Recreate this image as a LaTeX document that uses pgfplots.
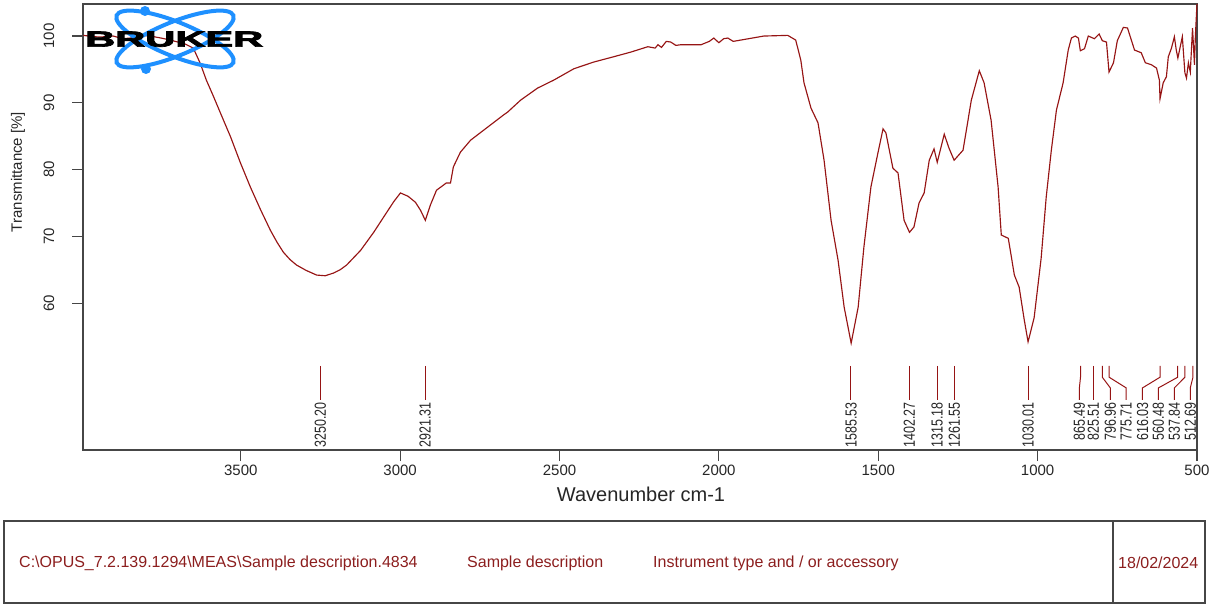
\documentclass[border=0pt]{standalone}
\usepackage{fontspec}
\setmainfont{Liberation Sans}
\newfontfamily\brukerfont{Liberation Sans}[BoldFeatures={FakeBold=3}]
\usepackage{pgfplots}
\pgfplotsset{compat=1.18}
\definecolor{curve}{RGB}{150,20,20}
\definecolor{txtred}{RGB}{140,30,30}
\definecolor{logoblue}{RGB}{30,144,255}
\definecolor{framec}{RGB}{70,70,70}
\newcommand{\pk}[1]{\scalebox{0.78}[1]{#1}}
\begin{document}
\begin{tikzpicture}
\path[use as bounding box] (0,0) rectangle (1225pt,605pt);
\begin{axis}[
  at={(83pt,155pt)}, anchor=south west,
  width=1114pt, height=446pt, scale only axis,
  xmin=500, xmax=3995, x dir=reverse,
  ymin=38, ymax=104.8,
  xtick={500,1000,1500,2000,2500,3000,3500},
  ytick=\empty,
  tick align=outside, xtick pos=left,
  major tick length=11pt,
  axis line style={framec, line width=1.1pt},
  every tick/.style={framec, line width=1.1pt},
  /pgf/number format/assume math mode=true,
  /pgf/number format/1000 sep={},
  xticklabel style={font=\fontsize{15}{17}\selectfont, text=black!85},
  clip=false,
]
\addplot[curve, line width=1.15pt] coordinates {
(3994,100.1) (3960,99.9) (3941,99.85) (3900,100.0) (3870,99.6) (3847,99.7) (3810,100.1) (3784,100.0) (3750,99.7) (3721,99.4)
(3674,98.8) (3649,98.2) (3627,95.9) (3608,93.4) (3586,91.0) (3564,88.5) (3532,84.9) (3501,81.0) (3470,77.4)
(3438,74.0) (3407,70.9) (3386,69.1) (3366,67.6) (3345,66.5) (3325,65.7) (3295,64.9) (3262,64.2) (3235,64.1) (3209,64.5) (3188,65.0) (3168,65.7) (3124,67.9)
(3083,70.6) (3042,73.6) (3020,75.2) (2999,76.5) (2975,76.0) (2952,75.1) (2936,73.9) (2921,72.4) (2905,74.7) (2886,76.9)
(2855,78.0) (2842,78.0) (2833,80.4) (2811,82.6) (2779,84.4) (2738,85.9) (2675,88.2) (2663,88.6)
(2622,90.4) (2569,92.2) (2518,93.4) (2455,95.1) (2393,96.1) (2330,96.9) (2276,97.6) (2223,98.4)
(2200,98.2) (2191,98.7) (2180,98.3) (2165,99.2) (2151,99.1) (2135,98.6) (2119,98.7) (2056,98.7) (2030,99.2) (2016,99.7) (2000,99.0) (1985,99.6)
(1972,99.7) (1955,99.2) (1931,99.4) (1859,100.0) (1784,100.1) (1759,99.4) (1743,96.4) (1733,93.0)
(1711,89.2) (1689,87.0) (1670,81.4) (1648,72.4) (1626,66.4) (1607,59.4) (1585,54.0) (1563,59.4)
(1545,68.4) (1523,77.4) (1501,82.5) (1485,86.1) (1476,85.5) (1454,80.2) (1438,79.5) (1419,72.4)
(1402,70.6) (1388,71.4) (1372,75.0) (1356,76.5) (1340,81.4) (1325,83.1) (1315,81.1) (1293,85.3)
(1278,83.2) (1262,81.4) (1234,82.9) (1208,90.4) (1183,94.8) (1168,93.0) (1146,87.4) (1124,77.4)
(1114,70.2) (1092,69.7) (1073,64.2) (1058,62.4) (1042,57.5) (1030,54.2) (1011,57.8) (989,66.7)
(973,75.9) (957,82.9) (941,88.9) (920,93.0) (904,97.9) (894,99.7) (882,100.0) (872,99.7)
(866,97.8) (853,98.1) (841,100.0) (822,99.6) (807,100.3) (797,99.3) (784,99.1) (776,94.6)
(762,96.0) (750,99.3) (731,101.3) (718,101.2) (696,97.9) (675,97.5) (662,96.0) (643,95.7)
(627,95.2) (618,93.4) (616,90.6) (606,93.0) (596,93.9) (590,96.9) (580,98.2) (571,99.9)
(565,97.9) (560,96.7) (546,99.9) (538,94.5) (533,93.7) (527,96.0) (521,94.6) (514,101.2)
(508,95.7) (505,100.1) (501,103.9) (500,104.8)
};
% peak markers (straight)
\addplot[curve, line width=1pt] coordinates {(3250.20,50.6) (3250.20,45.5)};
\addplot[curve, line width=1pt] coordinates {(2921.31,50.6) (2921.31,45.5)};
\addplot[curve, line width=1pt] coordinates {(1585.53,50.6) (1585.53,45.5)};
\addplot[curve, line width=1pt] coordinates {(1402.27,50.6) (1402.27,45.5)};
\addplot[curve, line width=1pt] coordinates {(1315.18,50.6) (1315.18,45.5)};
\addplot[curve, line width=1pt] coordinates {(1261.55,50.6) (1261.55,45.5)};
\addplot[curve, line width=1pt] coordinates {(1030.01,50.6) (1030.01,45.5)};
\addplot[curve, line width=1pt] coordinates {(825.51,50.6) (825.51,45.5)};
% peak markers (bent)
\addplot[curve, line width=1pt] coordinates {(865.49,50.6) (865.49,48.9) (869,47.3) (869,45.5)};
\addplot[curve, line width=1pt] coordinates {(796.96,50.6) (796.96,48.9) (772,47.3) (772,45.5)};
\addplot[curve, line width=1pt] coordinates {(775.71,50.6) (775.71,48.9) (722,47.3) (722,45.5)};
\addplot[curve, line width=1pt] coordinates {(616.03,50.6) (616.03,48.9) (671,47.3) (671,45.5)};
\addplot[curve, line width=1pt] coordinates {(560.48,50.6) (560.48,48.9) (621,47.3) (621,45.5)};
\addplot[curve, line width=1pt] coordinates {(537.84,50.6) (537.84,48.9) (571,47.3) (571,45.5)};
\addplot[curve, line width=1pt] coordinates {(512.69,50.6) (512.69,48.9) (521,47.3) (521,45.5)};
\begin{scope}[every node/.style={rotate=90, anchor=east, inner sep=0pt, font=\fontsize{16}{18}\selectfont, text=black!85}]
\node at (axis cs:3250.20,45.2) {\pk{3250.20}};
\node at (axis cs:2921.31,45.2) {\pk{2921.31}};
\node at (axis cs:1585.53,45.2) {\pk{1585.53}};
\node at (axis cs:1402.27,45.2) {\pk{1402.27}};
\node at (axis cs:1315.18,45.2) {\pk{1315.18}};
\node at (axis cs:1261.55,45.2) {\pk{1261.55}};
\node at (axis cs:1030.01,45.2) {\pk{1030.01}};
\node at (axis cs:869,45.2) {\pk{865.49}};
\node at (axis cs:825.51,45.2) {\pk{825.51}};
\node at (axis cs:772,45.2) {\pk{796.96}};
\node at (axis cs:722,45.2) {\pk{775.71}};
\node at (axis cs:671,45.2) {\pk{616.03}};
\node at (axis cs:621,45.2) {\pk{560.48}};
\node at (axis cs:571,45.2) {\pk{537.84}};
\node at (axis cs:521,45.2) {\pk{512.69}};
\end{scope}
% y ticks on the left edge
\draw[framec, line width=1.1pt] (axis cs:3995,100) -- ++(-11pt,0pt);
\draw[framec, line width=1.1pt] (axis cs:3995,90) -- ++(-11pt,0pt);
\draw[framec, line width=1.1pt] (axis cs:3995,80) -- ++(-11pt,0pt);
\draw[framec, line width=1.1pt] (axis cs:3995,70) -- ++(-11pt,0pt);
\draw[framec, line width=1.1pt] (axis cs:3995,60) -- ++(-11pt,0pt);
\end{axis}
\begin{scope}[x=1pt,y=-1pt,shift={(0pt,605pt)}]
% y tick labels, rotated as in the reference
\begin{scope}[every node/.style={rotate=90, font=\fontsize{15}{17}\selectfont, text=black!85}]
\node at (49,36.0) {100};
\node at (49,102.8) {90};
\node at (49,169.6) {80};
\node at (49,236.4) {70};
\node at (49,303.1) {60};
\end{scope}
% axis labels
\node[font=\fontsize{20}{23}\selectfont, text=black!85] at (641,494) {Wavenumber cm-1};
\node[rotate=90, font=\fontsize{15}{17}\selectfont, text=black!85] at (18,172) {Transmittance [\%]};
% logo
\draw[logoblue, line width=4pt, rotate around={22:(175,39)}] (175,39) ellipse [x radius=63, y radius=17];
\draw[logoblue, line width=4pt, rotate around={-22:(175,39)}] (175,39) ellipse [x radius=63, y radius=17];
\fill[logoblue] (145,11) circle [radius=5];
\fill[logoblue] (146,69) circle [radius=5];
\node[anchor=south west, inner sep=0pt] at (85,47) {\resizebox{178pt}{15pt}{\brukerfont\bfseries BRUKER}};
% bottom box
\draw[framec, line width=1.2pt] (4,521) rectangle (1205,603);
\draw[framec, line width=1.2pt] (1113,521) -- (1113,603);
\begin{scope}[every node/.style={anchor=west, inner sep=0pt, text=txtred, font=\fontsize{16}{18}\selectfont}]
\node at (19,563) {C:\textbackslash OPUS\_7.2.139.1294\textbackslash MEAS\textbackslash Sample description.4834};
\node at (467,563) {Sample description};
\node at (653,563) {Instrument type and / or accessory};
\node at (1118,563) {18/02/2024};
\end{scope}
\end{scope}
\end{tikzpicture}
\end{document}
